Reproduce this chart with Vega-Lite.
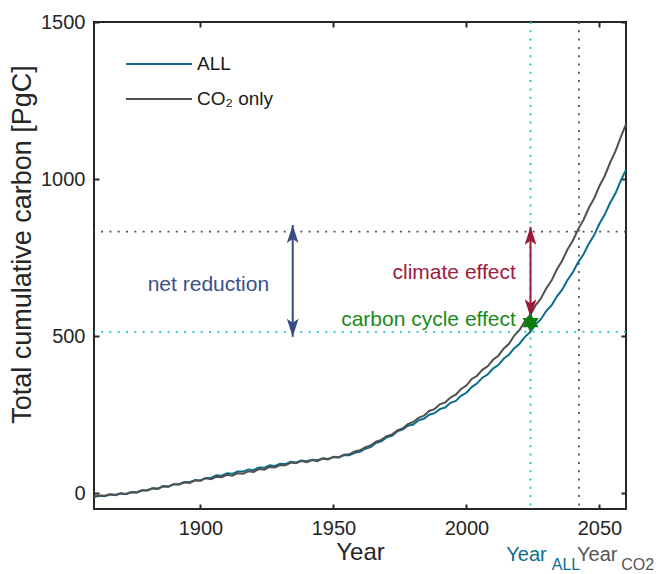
{
  "$schema": "https://vega.github.io/schema/vega-lite/v6.json",
  "width": 532,
  "height": 487,
  "autosize": {"type": "none"},
  "padding": {"left": 94, "top": 22, "right": 34, "bottom": 65},
  "background": "white",
  "config": {
    "font": "Liberation Sans",
    "view": {"stroke": "#262626", "strokeWidth": 2},
    "axis": {
      "domain": false, "grid": false, "tickSize": -5, "tickColor": "#262626", "tickWidth": 2,
      "labelFont": "Liberation Sans", "labelFontSize": 20, "labelColor": "#262626", "labelPadding": 14,
      "labelFlush": false, "labelOverlap": false, "format": "d",
      "titleFont": "Liberation Sans", "titleFontWeight": "normal", "titleColor": "#262626"
    }
  },
  "datasets": {
    "curves": [
      {"year":1860,"ALL":-12,"CO2":-10},{"year":1862,"ALL":-8,"CO2":-7},{"year":1864,"ALL":-9,"CO2":-8},{"year":1866,"ALL":-4,"CO2":-3},{"year":1868,"ALL":-6,"CO2":-5},
      {"year":1870,"ALL":-1,"CO2":0},{"year":1872,"ALL":-3,"CO2":-2},{"year":1874,"ALL":3,"CO2":4},{"year":1876,"ALL":2,"CO2":3},{"year":1878,"ALL":9,"CO2":10},
      {"year":1880,"ALL":10,"CO2":9},{"year":1882,"ALL":16,"CO2":16},{"year":1884,"ALL":15,"CO2":14},{"year":1886,"ALL":23,"CO2":22},{"year":1888,"ALL":22,"CO2":21},
      {"year":1890,"ALL":29,"CO2":29},{"year":1892,"ALL":29,"CO2":28},{"year":1894,"ALL":36,"CO2":35},{"year":1896,"ALL":35,"CO2":33},{"year":1898,"ALL":42,"CO2":41},
      {"year":1900,"ALL":41,"CO2":40},{"year":1902,"ALL":49,"CO2":48},{"year":1904,"ALL":49,"CO2":45},{"year":1906,"ALL":57,"CO2":53},{"year":1908,"ALL":56,"CO2":51},
      {"year":1910,"ALL":64,"CO2":59},{"year":1912,"ALL":62,"CO2":56},{"year":1914,"ALL":69,"CO2":64},{"year":1916,"ALL":69,"CO2":62},{"year":1918,"ALL":76,"CO2":70},
      {"year":1920,"ALL":74,"CO2":68},{"year":1922,"ALL":82,"CO2":77},{"year":1924,"ALL":81,"CO2":75},{"year":1926,"ALL":89,"CO2":84},{"year":1928,"ALL":87,"CO2":82},
      {"year":1930,"ALL":94,"CO2":90},{"year":1932,"ALL":93,"CO2":89},{"year":1934,"ALL":100,"CO2":98},{"year":1936,"ALL":98,"CO2":96},{"year":1938,"ALL":104,"CO2":103},
      {"year":1940,"ALL":102,"CO2":99},{"year":1942,"ALL":107,"CO2":106},{"year":1944,"ALL":105,"CO2":102},{"year":1946,"ALL":111,"CO2":111},{"year":1948,"ALL":109,"CO2":108},
      {"year":1950,"ALL":115,"CO2":116},{"year":1952,"ALL":114,"CO2":115},{"year":1954,"ALL":121,"CO2":123},{"year":1956,"ALL":121,"CO2":124},{"year":1958,"ALL":129,"CO2":133},
      {"year":1960,"ALL":132,"CO2":137},{"year":1962,"ALL":142,"CO2":147},{"year":1964,"ALL":147,"CO2":152},{"year":1966,"ALL":160,"CO2":164},{"year":1968,"ALL":165,"CO2":170},
      {"year":1970,"ALL":178,"CO2":182},{"year":1972,"ALL":183,"CO2":187},{"year":1974,"ALL":197,"CO2":200},{"year":1976,"ALL":203,"CO2":206},{"year":1978,"ALL":215,"CO2":220},
      {"year":1980,"ALL":219,"CO2":227},{"year":1982,"ALL":232,"CO2":240},{"year":1984,"ALL":237,"CO2":247},{"year":1986,"ALL":250,"CO2":262},{"year":1988,"ALL":255,"CO2":268},
      {"year":1990,"ALL":268,"CO2":283},{"year":1992,"ALL":273,"CO2":289},{"year":1994,"ALL":288,"CO2":305},{"year":1996,"ALL":294,"CO2":314},{"year":1998,"ALL":310,"CO2":332},
      {"year":2000,"ALL":320,"CO2":343},{"year":2002,"ALL":338,"CO2":364},{"year":2004,"ALL":350,"CO2":374},{"year":2006,"ALL":368,"CO2":393},{"year":2008,"ALL":378,"CO2":404},
      {"year":2010,"ALL":397,"CO2":425},{"year":2012,"ALL":408,"CO2":438},{"year":2014,"ALL":428,"CO2":460},{"year":2016,"ALL":441,"CO2":476},{"year":2018,"ALL":462,"CO2":502},
      {"year":2020,"ALL":476,"CO2":520},{"year":2022,"ALL":498,"CO2":548},{"year":2024,"ALL":513,"CO2":568},{"year":2026,"ALL":537,"CO2":598},{"year":2028,"ALL":554,"CO2":620},
      {"year":2030,"ALL":580,"CO2":652},{"year":2032,"ALL":598,"CO2":677},{"year":2034,"ALL":626,"CO2":712},{"year":2036,"ALL":648,"CO2":740},{"year":2038,"ALL":679,"CO2":776},
      {"year":2040,"ALL":703,"CO2":804},{"year":2042,"ALL":735,"CO2":840},{"year":2044,"ALL":760,"CO2":870},{"year":2046,"ALL":794,"CO2":908},{"year":2048,"ALL":821,"CO2":938},
      {"year":2050,"ALL":858,"CO2":978},{"year":2052,"ALL":887,"CO2":1010},{"year":2054,"ALL":924,"CO2":1052},{"year":2056,"ALL":954,"CO2":1088},{"year":2058,"ALL":994,"CO2":1133},
      {"year":2060,"ALL":1030,"CO2":1175}
    ],
    "refsV": [{"ref":"ALL","year":2024.1},{"ref":"CO2","year":2042.3}],
    "refsH": [{"ref":"ALL","value":514},{"ref":"CO2","value":832.6}],
    "arrows": [
      {"arrow":"net reduction","year":1934.7,"low":498,"high":854},
      {"arrow":"climate effect","year":2024.1,"low":560,"high":848}
    ],
    "notes": [
      {"note":"net reduction","year":1903,"value":663},
      {"note":"climate effect","year":2018.6,"value":701},
      {"note":"carbon cycle effect","year":2018.6,"value":552}
    ],
    "marker": [{"year":2024.1,"value":543}],
    "xlabels": [{"ref":"ALL","year":2024.1,"main":"Year","sub":"ALL"},{"ref":"CO2","year":2042.3,"main":"Year","sub":"CO2"}]
  },
  "layer": [
    {
      "data": {"name": "refsV"},
      "transform": [{"filter": "datum.ref == 'ALL'"}],
      "mark": {"type": "rule", "color": "#1cc5c8", "strokeWidth": 1.8, "strokeDash": [2, 6.3]},
      "encoding": {
        "x": {"field": "year", "type": "quantitative", "scale": {"domain": [1860, 2060], "nice": false, "zero": false},
              "axis": {"orient": "top", "values": [1900, 1950, 2000, 2050], "labels": false, "title": null}}
      }
    },
    {
      "data": {"name": "refsV"},
      "transform": [{"filter": "datum.ref == 'CO2'"}],
      "mark": {"type": "rule", "color": "#555555", "strokeWidth": 1.8, "strokeDash": [2, 6.3]},
      "encoding": {
        "x": {"field": "year", "type": "quantitative", "scale": {"domain": [1860, 2060], "nice": false, "zero": false}, "axis": null}
      }
    },
    {
      "data": {"name": "refsH"},
      "transform": [{"filter": "datum.ref == 'ALL'"}],
      "mark": {"type": "rule", "color": "#1cc5c8", "strokeWidth": 1.8, "strokeDash": [2, 6.3]},
      "encoding": {
        "y": {"field": "value", "type": "quantitative", "scale": {"domain": [-50, 1500], "nice": false, "zero": false},
              "axis": {"orient": "right", "values": [0, 500, 1000, 1500], "labels": false, "title": null}}
      }
    },
    {
      "data": {"name": "refsH"},
      "transform": [{"filter": "datum.ref == 'CO2'"}],
      "mark": {"type": "rule", "color": "#555555", "strokeWidth": 1.8, "strokeDash": [2, 6.3]},
      "encoding": {
        "y": {"field": "value", "type": "quantitative", "scale": {"domain": [-50, 1500], "nice": false, "zero": false}, "axis": null}
      }
    },
    {
      "data": {"name": "curves"},
      "transform": [{"fold": ["ALL", "CO2"], "as": ["series", "carbon"]}],
      "mark": {"type": "line", "strokeWidth": 2},
      "encoding": {
        "x": {"field": "year", "type": "quantitative", "scale": {"domain": [1860, 2060], "nice": false, "zero": false},
              "axis": {"orient": "bottom", "values": [1900, 1950, 2000, 2050], "title": "Year", "titleFontSize": 24, "titlePadding": 2}},
        "y": {"field": "carbon", "type": "quantitative", "scale": {"domain": [-50, 1500], "nice": false, "zero": false},
              "axis": {"orient": "left", "values": [0, 500, 1000, 1500], "title": "Total cumulative carbon [PgC]", "titleFontSize": 27, "titlePadding": 4, "titleY": 222}},
        "color": {"field": "series", "type": "nominal",
                  "scale": {"domain": ["ALL", "CO2"], "range": ["#0a6e8c", "#505050"]},
                  "legend": {"orient": "none", "legendX": 32, "legendY": 30, "title": null, "padding": 0,
                             "symbolType": "M-3,0H3", "symbolSize": 484, "symbolStrokeWidth": 2, "symbolOffset": 21,
                             "labelOffset": 26, "rowPadding": 13, "labelFontSize": 19, "labelFont": "Liberation Sans",
                             "labelColor": "#1a1a1a", "labelExpr": "datum.label == 'CO2' ? 'CO₂ only' : 'ALL'"}},
        "order": {"field": "series"}
      }
    },
    {
      "data": {"name": "arrows"},
      "transform": [{"filter": "datum.arrow == 'net reduction'"}],
      "layer": [
        {"mark": {"type": "rule", "color": "#374b82", "strokeWidth": 2},
         "encoding": {"x": {"field": "year", "type": "quantitative", "scale": {"domain": [1860, 2060], "nice": false, "zero": false}, "axis": null},
                      "y": {"field": "low", "type": "quantitative", "scale": {"domain": [-50, 1500], "nice": false, "zero": false}, "axis": null},
                      "y2": {"field": "high"}}},
        {"mark": {"type": "point", "shape": "M0,0L0.65,2L0,1.55L-0.65,2Z", "size": 324, "filled": true, "opacity": 1, "color": "#374b82"},
         "encoding": {"x": {"field": "year", "type": "quantitative", "scale": {"domain": [1860, 2060], "nice": false, "zero": false}, "axis": null},
                      "y": {"field": "high", "type": "quantitative", "scale": {"domain": [-50, 1500], "nice": false, "zero": false}, "axis": null}}},
        {"mark": {"type": "point", "shape": "M0,0L0.65,-2L0,-1.55L-0.65,-2Z", "size": 324, "filled": true, "opacity": 1, "color": "#374b82"},
         "encoding": {"x": {"field": "year", "type": "quantitative", "scale": {"domain": [1860, 2060], "nice": false, "zero": false}, "axis": null},
                      "y": {"field": "low", "type": "quantitative", "scale": {"domain": [-50, 1500], "nice": false, "zero": false}, "axis": null}}}
      ]
    },
    {
      "data": {"name": "arrows"},
      "transform": [{"filter": "datum.arrow == 'climate effect'"}],
      "layer": [
        {"mark": {"type": "rule", "color": "#9b1838", "strokeWidth": 2},
         "encoding": {"x": {"field": "year", "type": "quantitative", "scale": {"domain": [1860, 2060], "nice": false, "zero": false}, "axis": null},
                      "y": {"field": "low", "type": "quantitative", "scale": {"domain": [-50, 1500], "nice": false, "zero": false}, "axis": null},
                      "y2": {"field": "high"}}},
        {"mark": {"type": "point", "shape": "M0,0L0.65,2L0,1.55L-0.65,2Z", "size": 324, "filled": true, "opacity": 1, "color": "#9b1838"},
         "encoding": {"x": {"field": "year", "type": "quantitative", "scale": {"domain": [1860, 2060], "nice": false, "zero": false}, "axis": null},
                      "y": {"field": "high", "type": "quantitative", "scale": {"domain": [-50, 1500], "nice": false, "zero": false}, "axis": null}}},
        {"mark": {"type": "point", "shape": "M0,0L0.65,-2L0,-1.55L-0.65,-2Z", "size": 324, "filled": true, "opacity": 1, "color": "#9b1838"},
         "encoding": {"x": {"field": "year", "type": "quantitative", "scale": {"domain": [1860, 2060], "nice": false, "zero": false}, "axis": null},
                      "y": {"field": "low", "type": "quantitative", "scale": {"domain": [-50, 1500], "nice": false, "zero": false}, "axis": null}}}
      ]
    },
    {
      "data": {"name": "marker"},
      "mark": {"type": "point", "shape": "M0,-1L0.29,-0.5L0.87,-0.5L0.58,0L0.87,0.5L0.29,0.5L0,1L-0.29,0.5L-0.87,0.5L-0.58,0L-0.87,-0.5L-0.29,-0.5Z",
               "size": 240, "filled": true, "opacity": 1, "color": "#0b7d0b", "stroke": "#0b7d0b", "strokeWidth": 1.5},
      "encoding": {"x": {"field": "year", "type": "quantitative", "scale": {"domain": [1860, 2060], "nice": false, "zero": false}, "axis": null},
                   "y": {"field": "value", "type": "quantitative", "scale": {"domain": [-50, 1500], "nice": false, "zero": false}, "axis": null}}
    },
    {
      "data": {"name": "notes"},
      "transform": [{"filter": "datum.note == 'net reduction'"}],
      "mark": {"type": "text", "font": "Liberation Sans", "fontSize": 21, "color": "#3b5087", "align": "center", "baseline": "middle"},
      "encoding": {"x": {"field": "year", "type": "quantitative", "scale": {"domain": [1860, 2060], "nice": false, "zero": false}, "axis": null},
                   "y": {"field": "value", "type": "quantitative", "scale": {"domain": [-50, 1500], "nice": false, "zero": false}, "axis": null},
                   "text": {"field": "note"}}
    },
    {
      "data": {"name": "notes"},
      "transform": [{"filter": "datum.note == 'climate effect'"}],
      "mark": {"type": "text", "font": "Liberation Sans", "fontSize": 21, "color": "#a01a3c", "align": "right", "baseline": "middle"},
      "encoding": {"x": {"field": "year", "type": "quantitative", "scale": {"domain": [1860, 2060], "nice": false, "zero": false}, "axis": null},
                   "y": {"field": "value", "type": "quantitative", "scale": {"domain": [-50, 1500], "nice": false, "zero": false}, "axis": null},
                   "text": {"field": "note"}}
    },
    {
      "data": {"name": "notes"},
      "transform": [{"filter": "datum.note == 'carbon cycle effect'"}],
      "mark": {"type": "text", "font": "Liberation Sans", "fontSize": 21, "color": "#1a8a1a", "align": "right", "baseline": "middle"},
      "encoding": {"x": {"field": "year", "type": "quantitative", "scale": {"domain": [1860, 2060], "nice": false, "zero": false}, "axis": null},
                   "y": {"field": "value", "type": "quantitative", "scale": {"domain": [-50, 1500], "nice": false, "zero": false}, "axis": null},
                   "text": {"field": "note"}}
    },
    {
      "data": {"name": "xlabels"},
      "transform": [{"filter": "datum.ref == 'ALL'"}],
      "layer": [
        {"mark": {"type": "text", "font": "Liberation Sans", "fontSize": 20, "color": "#0e6e8a", "align": "center", "baseline": "alphabetic", "dx": -4, "dy": 52},
         "encoding": {"x": {"field": "year", "type": "quantitative", "scale": {"domain": [1860, 2060], "nice": false, "zero": false}, "axis": null},
                      "y": {"datum": -50, "type": "quantitative", "scale": {"domain": [-50, 1500], "nice": false, "zero": false}, "axis": null},
                      "text": {"field": "main"}}},
        {"mark": {"type": "text", "font": "Liberation Sans", "fontSize": 16, "color": "#0e6e8a", "align": "left", "baseline": "alphabetic", "dx": 21.2, "dy": 60.5},
         "encoding": {"x": {"field": "year", "type": "quantitative", "scale": {"domain": [1860, 2060], "nice": false, "zero": false}, "axis": null},
                      "y": {"datum": -50, "type": "quantitative", "scale": {"domain": [-50, 1500], "nice": false, "zero": false}, "axis": null},
                      "text": {"field": "sub"}}}
      ]
    },
    {
      "data": {"name": "xlabels"},
      "transform": [{"filter": "datum.ref == 'CO2'"}],
      "layer": [
        {"mark": {"type": "text", "font": "Liberation Sans", "fontSize": 20, "color": "#555555", "align": "center", "baseline": "alphabetic", "dx": 18.3, "dy": 52},
         "encoding": {"x": {"field": "year", "type": "quantitative", "scale": {"domain": [1860, 2060], "nice": false, "zero": false}, "axis": null},
                      "y": {"datum": -50, "type": "quantitative", "scale": {"domain": [-50, 1500], "nice": false, "zero": false}, "axis": null},
                      "text": {"field": "main"}}},
        {"mark": {"type": "text", "font": "Liberation Sans", "fontSize": 16, "color": "#555555", "align": "left", "baseline": "alphabetic", "dx": 42.3, "dy": 60.5},
         "encoding": {"x": {"field": "year", "type": "quantitative", "scale": {"domain": [1860, 2060], "nice": false, "zero": false}, "axis": null},
                      "y": {"datum": -50, "type": "quantitative", "scale": {"domain": [-50, 1500], "nice": false, "zero": false}, "axis": null},
                      "text": {"field": "sub"}}}
      ]
    }
  ],
  "resolve": {"axis": {"x": "independent", "y": "independent"}}
}
